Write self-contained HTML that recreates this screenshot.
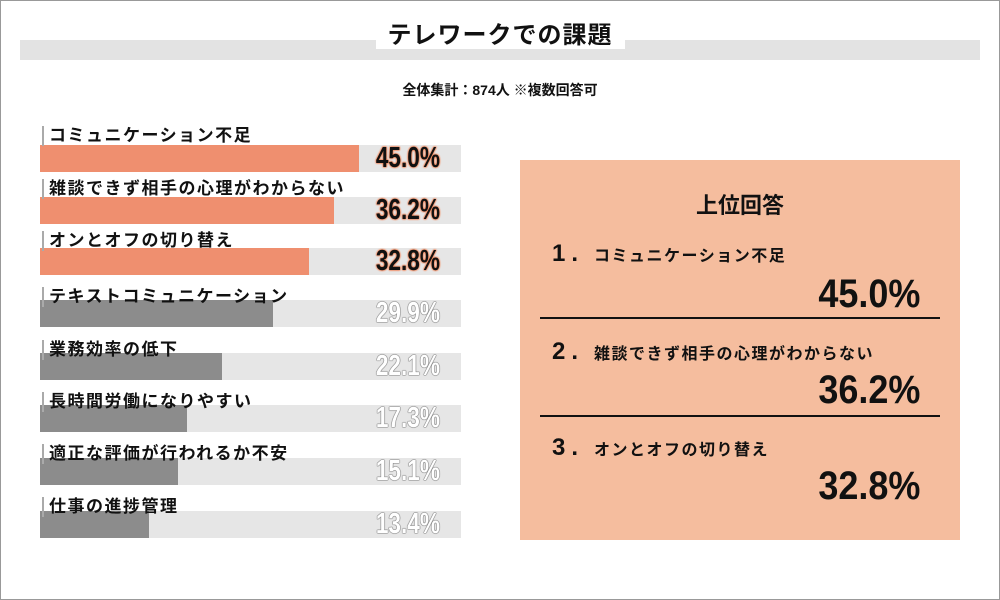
<!DOCTYPE html>
<html><head><meta charset="utf-8"><style>
body{margin:0;width:1000px;height:600px;background:#fff;position:relative;overflow:hidden;font-family:"Liberation Sans","Noto Sans CJK JP",sans-serif;color:#111}
.frame{position:absolute;left:0;top:0;width:998px;height:598px;border:1px solid #999}
.band{position:absolute;left:20px;top:40px;width:960px;height:20px;background:#e3e3e3}
.title{position:absolute;left:0;width:1000px;top:15px;text-align:center;font-size:24px;font-weight:bold;letter-spacing:1px}
.title span{background:#fff;padding:0 12px}
.sub{position:absolute;left:0;width:1000px;top:80px;text-align:center;font-size:14px;font-weight:bold}
.bg{position:absolute;left:40px;width:421px;height:27px;background:#e6e6e6}
.bar{position:absolute;left:40px;height:27px}
.lbl{position:absolute;left:42px;font-size:17px;font-weight:bold;border-left:2px solid #aaa;padding-left:5px;line-height:20px;letter-spacing:1.5px}
.pct{position:absolute;left:340px;width:100px;text-align:right;font-family:"Liberation Sans Narrow","Liberation Sans",sans-serif;font-weight:bold;font-size:29px;line-height:27px;transform:scaleX(.78);transform-origin:right}
.o{color:#111;text-shadow:0 0 2px #f08a60,0 0 2px #f08a60,0 0 2px #f08a60,0 0 2px #f08a60}
.g{color:#fff;text-shadow:0 0 1px #777,0 0 1px #777,0 0 1px #777,0 0 1px #777,0 0 1px #777}
.box{position:absolute;left:520px;top:160px;width:440px;height:380px;background:#f5bd9e}
.box .h{position:absolute;top:28px;width:440px;text-align:center;font-size:22px;font-weight:bold}
.it{position:absolute;left:32px;font-size:16px;font-weight:bold;letter-spacing:1.5px}
.it b{font-size:24px;margin-right:10px;letter-spacing:6px}
.big{position:absolute;right:40px;font-size:40px;font-family:"Liberation Sans Narrow","Liberation Sans",sans-serif;font-weight:bold;transform:scaleX(.9);transform-origin:right}
.ln{position:absolute;left:20px;width:400px;height:2px;background:#111}
</style></head><body>
<div class="frame"></div>
<div class="band"></div>
<div class="title"><span>テレワークでの課題</span></div>
<div class="sub">全体集計：874人 ※複数回答可</div>

<div class="bg" style="top:145px"></div><div class="bar" style="top:145px;width:319px;background:#ef8f6f"></div><div class="lbl" style="top:126px">コミュニケーション不足</div><div class="pct o" style="top:145px">45.0%</div>
<div class="bg" style="top:197px"></div><div class="bar" style="top:197px;width:294px;background:#ef8f6f"></div><div class="lbl" style="top:179px">雑談できず相手の心理がわからない</div><div class="pct o" style="top:197px">36.2%</div>
<div class="bg" style="top:248px"></div><div class="bar" style="top:248px;width:269px;background:#ef8f6f"></div><div class="lbl" style="top:231px">オンとオフの切り替え</div><div class="pct o" style="top:248px">32.8%</div>
<div class="bg" style="top:300px"></div><div class="bar" style="top:300px;width:233px;background:#8c8c8c"></div><div class="lbl" style="top:287px">テキストコミュニケーション</div><div class="pct g" style="top:300px">29.9%</div>
<div class="bg" style="top:353px"></div><div class="bar" style="top:353px;width:182px;background:#8c8c8c"></div><div class="lbl" style="top:340px">業務効率の低下</div><div class="pct g" style="top:353px">22.1%</div>
<div class="bg" style="top:405px"></div><div class="bar" style="top:405px;width:147px;background:#8c8c8c"></div><div class="lbl" style="top:392px">長時間労働になりやすい</div><div class="pct g" style="top:405px">17.3%</div>
<div class="bg" style="top:458px"></div><div class="bar" style="top:458px;width:138px;background:#8c8c8c"></div><div class="lbl" style="top:444px">適正な評価が行われるか不安</div><div class="pct g" style="top:458px">15.1%</div>
<div class="bg" style="top:511px"></div><div class="bar" style="top:511px;width:109px;background:#8c8c8c"></div><div class="lbl" style="top:497px">仕事の進捗管理</div><div class="pct g" style="top:511px">13.4%</div>

<div class="box">
<div class="h">上位回答</div>
<div class="it" style="top:80px"><b>1.</b>コミュニケーション不足</div>
<div class="big" style="top:112px">45.0%</div>
<div class="ln" style="top:157px"></div>
<div class="it" style="top:178px"><b>2.</b>雑談できず相手の心理がわからない</div>
<div class="big" style="top:208px">36.2%</div>
<div class="ln" style="top:255px"></div>
<div class="it" style="top:274px"><b>3.</b>オンとオフの切り替え</div>
<div class="big" style="top:304px">32.8%</div>
</div>
</body></html>
